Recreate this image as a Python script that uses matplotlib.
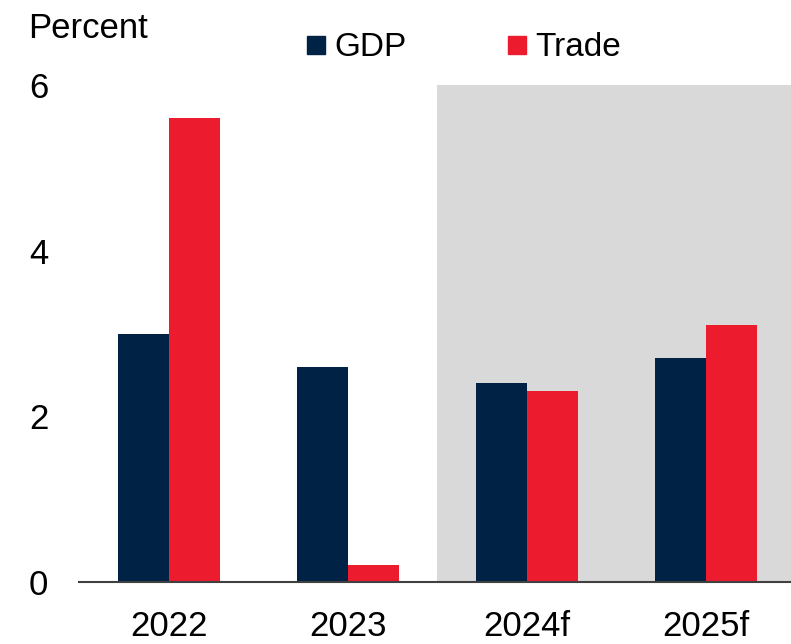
import numpy as np
import matplotlib.pyplot as plt
from matplotlib.lines import Line2D

plt.rcParams['font.family'] = ['Liberation Sans', 'DejaVu Sans']

years = ['2022', '2023', '2024f', '2025f']
gdp = [3.0, 2.6, 2.4, 2.7]
trade = [5.6, 0.2, 2.3, 3.1]

navy = '#002345'
red = '#EC1C2E'
shade = '#D9D9D9'

fig = plt.figure(figsize=(7.91, 6.44), dpi=100)
ax = fig.add_axes([79 / 791, 1 - 582 / 644, 1 - 79 / 791, (582 - 85) / 644])

x = np.arange(len(years))
w = 0.285
ax.axvspan(1.5, 3.5, color=shade, lw=0, zorder=0)
ax.bar(x - w / 2, gdp, w, color=navy, zorder=2)
ax.bar(x + w / 2, trade, w, color=red, zorder=2)

ax.set_xlim(-0.5, 3.475)
ax.set_ylim(0, 6)
ax.set_yticks([0, 2, 4, 6])
ax.set_xticks(x)
ax.set_xticklabels(years)
ax.tick_params(axis='both', length=0, labelsize=25)
ax.tick_params(axis='y', pad=22)
ax.tick_params(axis='x', pad=20)
for s in ['top', 'right', 'left']:
    ax.spines[s].set_visible(False)
ax.spines['bottom'].set_color('#404040')
ax.spines['bottom'].set_linewidth(1.5)
ax.spines['bottom'].set_zorder(3)

fig.text(28 / 791, 1 - 29 / 644, 'Percent', fontsize=25, va='center', ha='left')

handles = [Line2D([], [], marker='s', ls='', color=navy, markersize=13),
           Line2D([], [], marker='s', ls='', color=red, markersize=13)]
fig.legend(handles, ['GDP', 'Trade'], ncol=2, frameon=False, fontsize=24,
           loc='center left', bbox_to_anchor=(286 / 791, 1 - 48 / 644),
           handletextpad=0.15, columnspacing=2.9, handlelength=0.8, borderpad=0)

fig.savefig('out.png', dpi=100)
